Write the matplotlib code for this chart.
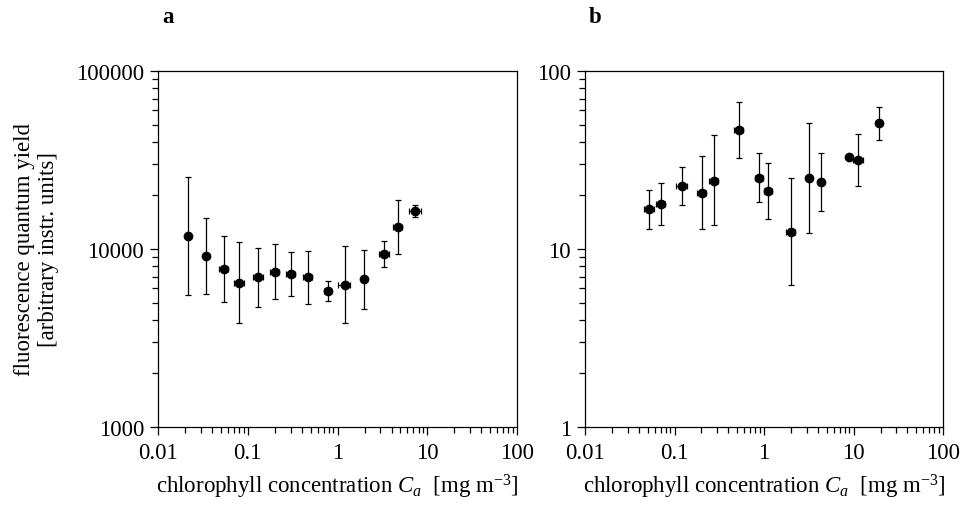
import matplotlib
matplotlib.use('Agg')
import matplotlib.pyplot as plt
from matplotlib.ticker import LogLocator, FuncFormatter, NullFormatter

# Panel a: fluorescence quantum yield vs chlorophyll
chl_a = [0.0218, 0.0343, 0.054, 0.0805, 0.131, 0.201, 0.303, 0.469, 0.778, 1.20, 1.99, 3.32, 4.68, 7.31]
fqy_a = [11830, 9140, 7750, 6470, 6935, 7430, 7240, 6935, 5830, 6300, 6760, 9370, 13300, 16350]
fqy_a_hi = [25300, 14930, 11880, 10900, 10170, 10620, 9580, 9790, 6640, 10440, 9910, 11090, 18920, 17740]
fqy_a_lo = [5530, 5590, 5010, 3830, 4720, 5220, 5470, 4910, 5080, 3830, 4620, 7890, 9370, 15130]
chl_a_relerr = [0.0, 0.0, 0.12, 0.12, 0.12, 0.12, 0.12, 0.12, 0.1, 0.15, 0.0, 0.12, 0.12, 0.15]

# Panel b
chl_b = [0.0523, 0.0707, 0.121, 0.203, 0.274, 0.526, 0.879, 1.12, 1.99, 3.16, 4.30, 8.98, 11.3, 19.4]
fqy_b = [16.7, 17.8, 22.5, 20.7, 24.2, 46.6, 25.2, 21.1, 12.5, 25.0, 23.7, 32.7, 31.7, 50.9]
fqy_b_hi = [21.5, 23.5, 29.0, 33.2, 43.5, 66.7, 34.8, 30.3, 25.2, 51.2, 34.8, 32.7, 44.3, 63.0]
fqy_b_lo = [13.0, 13.7, 17.6, 12.9, 13.6, 32.4, 18.3, 14.7, 6.25, 12.3, 16.3, 32.7, 22.6, 40.8]
chl_b_relerr = [0.12, 0.12, 0.15, 0.12, 0.12, 0.12, 0.1, 0.1, 0.12, 0.0, 0.0, 0.0, 0.12, 0.0]

plt.rcParams['font.family'] = ['Liberation Serif', 'DejaVu Serif']
plt.rcParams['mathtext.fontset'] = 'custom'
plt.rcParams['mathtext.rm'] = 'Liberation Serif'
plt.rcParams['mathtext.it'] = 'Liberation Serif:italic'
plt.rcParams['font.size'] = 16.5

fig = plt.figure(figsize=(9.6, 5.06), dpi=100)
ax_a = fig.add_axes([0.1646, 0.1542, 0.374, 0.7036])
ax_b = fig.add_axes([0.6094, 0.1542, 0.373, 0.7036])

fmt = FuncFormatter(lambda v, p: '{:g}'.format(v))


def draw(ax, x, y, lo, hi, xrel, ylim):
    yerr = [[yi - l for yi, l in zip(y, lo)], [h - yi for yi, h in zip(y, hi)]]
    xerr = [xi * r for xi, r in zip(x, xrel)]
    ax.errorbar(x, y, yerr=yerr, xerr=xerr, fmt='o', color='black', ms=6,
                elinewidth=0.9, capsize=2, capthick=0.9)
    ax.set_xscale('log')
    ax.set_yscale('log')
    ax.set_xlim(0.01, 100)
    ax.set_ylim(*ylim)
    ax.xaxis.set_major_formatter(fmt)
    ax.yaxis.set_major_formatter(fmt)
    ax.xaxis.set_minor_formatter(NullFormatter())
    ax.yaxis.set_minor_formatter(NullFormatter())
    ax.yaxis.set_minor_locator(LogLocator(base=10, subs=range(2, 10), numticks=20))
    ax.xaxis.set_minor_locator(LogLocator(base=10, subs=range(2, 10), numticks=20))
    ax.tick_params(which='major', direction='out', length=6, width=0.9, pad=4)
    ax.tick_params(which='minor', direction='out', length=4, width=0.9)
    ax.tick_params(axis='x', which='major', pad=5)
    for s in ax.spines.values():
        s.set_linewidth(0.9)
    ax.set_xlabel('chlorophyll concentration $C_a$  [mg m$^{-3}$]', labelpad=6)


draw(ax_a, chl_a, fqy_a, fqy_a_lo, fqy_a_hi, chl_a_relerr, (1000, 100000))
draw(ax_b, chl_b, fqy_b, fqy_b_lo, fqy_b_hi, chl_b_relerr, (1, 100))

ax_a.set_ylabel('fluorescence quantum yield\n[arbitrary instr. units]',
                linespacing=1.2, labelpad=12)

fig.text(0.169, 0.965, 'a', fontsize=16.5, fontweight='bold', va='center')
fig.text(0.613, 0.965, 'b', fontsize=16.5, fontweight='bold', va='center')

plt.savefig('out.png', dpi=100)
